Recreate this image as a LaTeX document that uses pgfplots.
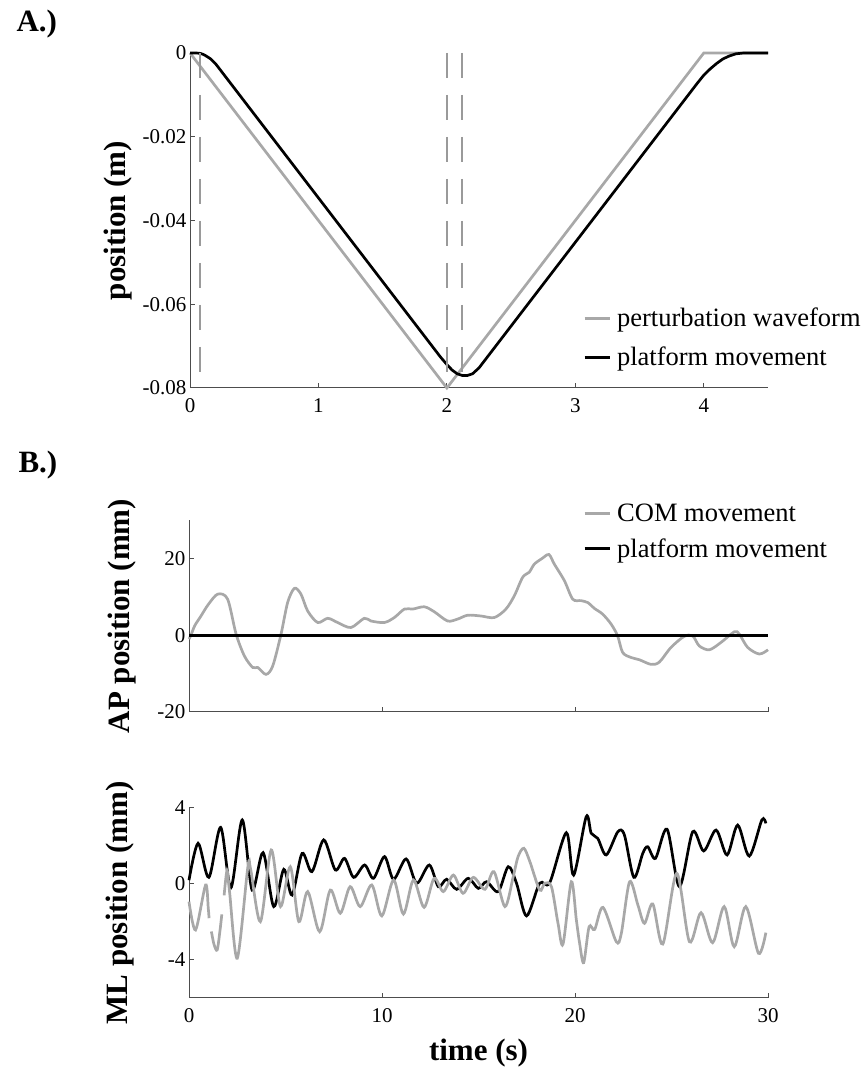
\documentclass[border=0pt]{standalone}
\usepackage{fontspec}
\setmainfont{Liberation Serif}
\usepackage{pgfplots}
\pgfplotsset{compat=1.18}
\definecolor{lgray}{HTML}{A8A8A8}
\definecolor{dgray}{HTML}{9A9A9A}
\definecolor{axgray}{HTML}{4D4D4D}
\pgfplotsset{
  myaxis/.style={
    scale only axis,
    axis x line*=bottom, axis y line*=left,
    tick align=inside, major tick length=5pt,
    axis line style={line width=1pt, color=axgray},
    every tick/.style={line width=1pt, color=axgray},
    tick label style={font=\fontsize{21}{24}\selectfont},
    xticklabel style={yshift=-7pt},
    label style={font=\bfseries\fontsize{31}{36}\selectfont},
    /pgf/number format/assume math mode=true,
    scaled ticks=false,
    clip=false,
    legend style={draw=none, fill=none, font=\fontsize{26.5}{30}\selectfont},
    legend cell align=left,
    legend image code/.code={\draw[#1] (0pt,0pt) -- (25pt,0pt); \path (29pt,0pt);},
  },
  gline/.style={color=lgray, line width=2.7pt},
  bline/.style={color=black, line width=2.7pt},
}
\begin{document}
\begin{tikzpicture}
\path[use as bounding box] (0pt,0pt) rectangle (864pt,1072pt);
\node[anchor=base west, font=\bfseries\fontsize{31}{36}\selectfont] at (13pt,1040pt) {A.)};
\node[anchor=base west, font=\bfseries\fontsize{31}{36}\selectfont] at (15pt,599pt) {B.)};

% Panel A
\begin{axis}[myaxis,
  at={(190pt,684pt)}, anchor=south west,
  width=578pt, height=335pt,
  xmin=0, xmax=4.5, ymin=-0.08, ymax=0,
  xtick={0,1,2,3,4}, xticklabels={0,1,2,3,4},
  ytick={-0.08,-0.06,-0.04,-0.02,0},
  yticklabels={-0.08,-0.06,-0.04,-0.02,0},
  ylabel={position (m)},
  ylabel style={at={(axis description cs:-0.1246,0.5)}, anchor=center},
  legend style={at={(axis description cs:0.675,0.251)}, anchor=north west, row sep=15pt},
]
\addplot[gline] coordinates {(0,0) (2,-0.08) (4,0) (4.5,0)};
\addlegendentry{perturbation waveform}
\addplot[bline] coordinates {
(0,0) (0.05,0) (0.08,-0.0001) (0.1,-0.0003) (0.12,-0.0006) (0.14,-0.0010) (0.16,-0.0014)
(0.18,-0.0020) (0.2,-0.0026) (0.22,-0.0034) (0.3,-0.0066) (0.4,-0.0106) (1.0,-0.0346)
(1.5,-0.0546) (1.95,-0.0726) (2.0,-0.0744) (2.04,-0.0757) (2.08,-0.0766) (2.12,-0.0770)
(2.16,-0.0770) (2.2,-0.0766) (2.25,-0.0752) (2.3,-0.0732) (3.0,-0.0452) (3.5,-0.0252)
(3.9,-0.0092) (3.95,-0.0072) (4.0,-0.0053) (4.05,-0.0038) (4.1,-0.0025) (4.15,-0.0014)
(4.2,-0.0007) (4.25,-0.0002) (4.31,0) (4.5,0)};
\addlegendentry{platform movement}
\addplot[dgray, line width=1.8pt, dash pattern=on 25pt off 17pt, forget plot] coordinates {(0.08,0) (0.08,-0.08)};
\addplot[dgray, line width=1.8pt, dash pattern=on 25pt off 17pt, forget plot] coordinates {(2.0,0) (2.0,-0.08)};
\addplot[dgray, line width=1.8pt, dash pattern=on 25pt off 17pt, forget plot] coordinates {(2.12,0) (2.12,-0.08)};
\end{axis}

% Panel B top: AP
\begin{axis}[myaxis,
  at={(189pt,360pt)}, anchor=south west,
  width=579pt, height=192pt,
  xmin=0, xmax=30, ymin=-20, ymax=30,
  xtick={10,20,30}, xticklabels={},
  ytick={-20,0,20}, yticklabels={-20,0,20},
  ylabel={AP position (mm)},
  ylabel style={at={(axis description cs:-0.116,0.5)}, anchor=center},
  legend style={at={(axis description cs:0.675,1.107)}, anchor=north west, row sep=12pt},
]
\addplot[gline, smooth] coordinates {
(0,-1.0) (0.1,0.0) (0.3,2.5) (0.62,5.0) (1.0,8.0) (1.49,10.7) (2.0,9.4) (2.44,0.3)
(2.87,-5.4) (3.3,-8.4) (3.56,-8.4) (3.99,-10.2) (4.34,-8.0) (4.77,0.3) (5.11,8.5)
(5.46,12.2) (5.8,10.7) (6.15,6.3) (6.67,3.3) (7.19,4.4) (7.7,3.3) (8.39,2.0) (9.08,4.4)
(9.43,3.7) (10.12,3.3) (10.64,4.6) (11.16,6.8) (11.59,6.8) (12.19,7.4) (12.71,6.1)
(13.4,3.7) (13.92,4.2) (14.44,5.2) (15.13,5.0) (15.82,4.6) (16.42,6.8) (16.86,10.3)
(17.29,15.1) (17.63,16.4) (17.89,18.5) (18.3,20.0) (18.65,21.0) (18.93,18.5) (19.45,14.2)
(19.88,9.4) (20.31,9.0) (20.66,8.5) (21.0,7.0) (21.43,5.5) (21.87,2.9) (22.21,-0.2)
(22.47,-4.5) (22.9,-5.8) (23.34,-6.4) (23.94,-7.6) (24.37,-7.0) (24.97,-3.2) (25.66,-0.3)
(26.1,-0.2) (26.44,-2.8) (26.96,-3.8) (27.56,-1.9) (28.26,0.9) (28.51,0.3) (28.95,-3.2)
(29.55,-4.9) (30,-3.8)};
\addlegendentry{COM movement}
\addplot[bline, line width=3.2pt] coordinates {(0,0) (30,0)};
\addlegendentry{platform movement}
\end{axis}

% Panel B bottom: ML
\begin{axis}[myaxis,
  at={(189pt,74pt)}, anchor=south west,
  width=579pt, height=190pt,
  xmin=0, xmax=30, ymin=-6, ymax=4,
  xtick={0,10,20,30}, xticklabels={0,10,20,30},
  ytick={-4,0,4}, yticklabels={-4,0,4},
  ylabel={ML position (mm)},
  ylabel style={at={(axis description cs:-0.119,0.5)}, anchor=center},
  xlabel={time (s)},
  xlabel style={at={(axis description cs:0.5,0)}, anchor=base, yshift=-62pt},
  unbounded coords=jump,
]
\addplot[bline, smooth] coordinates {
(0,0.2) (0.47,2.14) (1.03,0.35) (1.64,2.98) (2.17,-0.2) (2.76,3.37) (3.27,-0.32)
(3.84,1.65) (4.39,-1.19) (4.91,0.77) (5.34,-0.58) (5.86,1.61) (6.37,0.65) (6.98,2.32)
(7.58,0.74) (8.06,1.35) (8.53,0.35) (9.1,1.0) (9.56,0.3) (10.13,1.44) (10.6,0.25)
(11.25,1.32) (11.8,0.04) (12.45,1.0) (12.92,-0.14) (13.35,0.25) (13.87,-0.28) (14.47,0.3)
(14.99,-0.23) (15.42,0.12) (16.02,-0.4) (16.54,0.91) (16.97,0.04) (17.49,-1.68)
(18.17,0.04) (18.69,0.07) (19.55,2.7) (19.93,0.47) (20.58,3.54) (20.84,2.67) (21.18,2.4)
(21.62,1.53) (22.22,2.75) (22.56,2.58) (23.05,0.35) (23.51,1.61) (23.77,1.96) (24.17,1.35)
(24.77,2.88) (25.41,-0.14) (26.1,2.75) (26.67,1.74) (27.31,2.84) (27.88,1.53) (28.43,3.1)
(29.03,1.47) (29.68,3.37) (29.89,3.19)};
\addplot[gline, smooth] coordinates {
(0,-0.93) (0.34,-2.42) (0.86,-0.05) (1.0,-1.3) (1.04,-1.8) (1.1,nan) (1.16,-2.5) (1.3,-3.2)
(1.46,-3.47) (1.6,-2.5) (1.7,-1.6) (1.76,nan) (1.82,-0.6) (1.97,0.7) (2.1,-0.4)
(2.5,-3.91) (3.05,0.9) (3.19,0.8) (3.7,-1.98) (4.26,1.79) (4.74,-1.19) (5.25,0.91)
(5.69,-1.98) (6.15,-0.4) (6.77,-2.51) (7.32,-0.32) (7.84,-1.54) (8.35,-0.14) (8.87,-1.19)
(9.47,-0.05) (9.99,-1.68) (10.6,0.21) (11.11,-1.58) (11.63,0.21) (12.18,-1.23) (12.7,0.3)
(13.18,-0.4) (13.7,0.47) (14.2,-0.49) (14.73,0.35) (15.33,-0.28) (15.8,0.65) (16.37,-1.19)
(16.8,0.39) (17.05,1.44) (17.35,1.88) (17.66,1.18) (18.17,-0.32) (18.43,0.04) (18.78,-0.14)
(19.12,-2.07) (19.38,-3.16) (19.81,0.12) (20.07,-1.89) (20.24,-3.12) (20.45,-4.14)
(20.73,-2.25) (21.02,-2.39) (21.45,-1.23) (22.14,-3.04) (22.4,-2.6) (22.83,0.12)
(23.26,-1.11) (23.6,-2.07) (24.03,-1.05) (24.55,-3.16) (25.27,0.56) (25.93,-3.04)
(26.53,-1.51) (27.13,-3.09) (27.73,-1.19) (28.25,-3.3) (28.85,-1.19) (29.51,-3.65)
(29.89,-2.56)};
\end{axis}
\end{tikzpicture}
\end{document}
